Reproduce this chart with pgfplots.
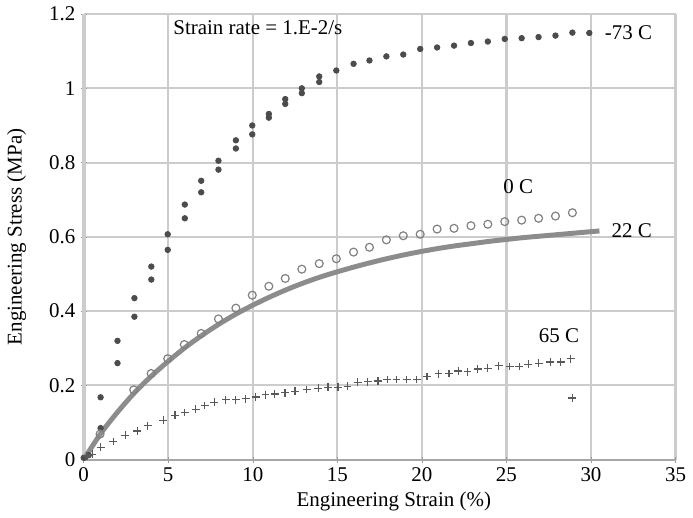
\documentclass[border=0pt]{standalone}
\usepackage{pgfplots}
\pgfplotsset{compat=1.18}
\usepackage{fontspec}
\setmainfont{Liberation Serif}
\begin{document}
\fontsize{10.6bp}{12.7bp}\selectfont
\begin{tikzpicture}
\begin{axis}[
  scale only axis, width=299.5bp, height=225.5bp,
  xmin=0, xmax=35, ymin=0, ymax=1.2,
  xtick={0,5,10,15,20,25,30,35},
  ytick={0,0.2,0.4,0.6,0.8,1,1.2},
  yticklabels={0,0.2,0.4,0.6,0.8,1,1.2},
  axis x line=bottom, axis y line=left,
  x axis line style={-, black!35, line width=1bp},
  y axis line style={-, black!20, line width=2bp},
  xmajorgrids=true, ymajorgrids=true,
  major grid style={draw=black!20, line width=1.1bp},
  major tick length=3bp, tick style={black!40},
  /pgf/number format/assume math mode=true,
  ticklabel style={font=\fontsize{10.6bp}{12.7bp}\selectfont},
  xticklabel style={yshift=1bp},
  yticklabel style={xshift=1bp},
  label style={font=\fontsize{10.6bp}{12.7bp}\selectfont},
  xlabel={Engineering Strain (\%)},
  ylabel={Engineering Stress (MPa)},
  every axis x label/.style={at={(axis description cs:0.524,-0.093)},anchor=center},
  every axis y label/.style={at={(axis description cs:-0.1135,0.5)},rotate=90,anchor=center},
  clip=false,
]
% -73 C
\addplot[only marks, mark=*, mark size=1.4bp, draw=black!70, fill=black!70] coordinates {
(0,0.005)(0.3,0.012)(1,0.168)(1,0.085)(2,0.32)(2,0.26)(3,0.435)(3,0.385)(4,0.52)(4,0.485)
(4.97,0.607)(4.97,0.565)(5.98,0.687)(5.98,0.650)(6.95,0.751)(6.95,0.720)(7.97,0.805)(7.97,0.781)
(9.0,0.860)(9.0,0.838)(9.97,0.900)(9.97,0.876)(10.95,0.931)(10.95,0.921)(11.92,0.971)(11.92,0.958)
(12.9,1.0)(12.9,0.987)(13.93,1.032)(13.93,1.017)(14.94,1.048)(15.96,1.066)(16.9,1.075)(17.9,1.086)
(18.9,1.091)(19.9,1.106)(20.9,1.110)(21.9,1.115)(22.9,1.122)(23.9,1.126)(24.9,1.133)(25.9,1.135)
(26.9,1.138)(27.9,1.142)(28.9,1.150)(29.9,1.149)
};
% 22 C
\addplot[black!45, line width=2.5bp, smooth] coordinates {
(0,0)(1,0.07)(2,0.128)(3,0.18)(4,0.225)(5,0.265)(6,0.302)(7,0.335)(8,0.365)(9,0.392)
(10,0.416)(11,0.438)(12,0.458)(13,0.476)(14,0.492)(15,0.506)(16,0.519)(17,0.531)(18,0.542)
(19,0.552)(20,0.561)(21,0.569)(22,0.576)(23,0.582)(24,0.588)(25,0.593)(26,0.598)(27,0.602)
(28,0.606)(29,0.610)(30,0.614)(30.5,0.616)
};
% 0 C
\addplot[only marks, mark=o, mark size=2bp, black!50, mark options={line width=0.6bp}] coordinates {
(0.97,0.069)(2.96,0.188)(3.99,0.232)(4.97,0.272)(5.95,0.310)(6.95,0.340)(7.97,0.379)(9.0,0.408)
(9.97,0.443)(10.95,0.467)(11.92,0.488)(12.9,0.513)(13.93,0.528)(14.94,0.541)(15.96,0.559)(16.9,0.572)
(17.9,0.592)(18.9,0.603)(19.9,0.607)(20.9,0.621)(21.9,0.623)(22.9,0.630)(23.9,0.634)(24.9,0.641)
(25.9,0.645)(26.9,0.650)(27.9,0.656)(28.9,0.665)
};
% 65 C
\addplot[only marks, mark=+, mark size=2bp, black!65, mark options={line width=0.6bp}] coordinates {
(0.2,0.01)(0.5,0.015)(1.01,0.033)(1.75,0.049)(2.47,0.066)(3.16,0.077)(3.78,0.091)(4.7,0.106)(5.4,0.120)
(5.98,0.127)(6.62,0.136)(7.15,0.146)(7.73,0.155)(8.4,0.161)(9.0,0.161)(9.58,0.164)(10.17,0.169)
(10.75,0.175)(11.3,0.177)(11.9,0.180)(12.5,0.184)(13.2,0.189)(13.87,0.192)(14.45,0.195)(15.04,0.195)
(15.6,0.198)(16.2,0.208)(16.8,0.210)(17.4,0.212)(17.96,0.216)(18.5,0.216)(19.1,0.216)(19.7,0.216)
(20.3,0.224)(20.98,0.231)(21.6,0.232)(22.15,0.239)(22.7,0.237)(23.3,0.244)(23.9,0.246)(24.55,0.253)
(25.2,0.251)(25.75,0.251)(26.3,0.257)(26.9,0.260)(27.6,0.263)(28.2,0.263)(28.8,0.272)(28.9,0.166)
};
\node[anchor=center, inner sep=0pt] at (axis cs:10.3,1.163) {Strain rate = 1.E-2/s};
\node[anchor=west, inner sep=0pt] at (axis cs:30.8,1.149) {-73 C};
\node[anchor=west, inner sep=0pt] at (axis cs:24.8,0.736) {0 C};
\node[anchor=west, inner sep=0pt] at (axis cs:31.2,0.617) {22 C};
\node[anchor=west, inner sep=0pt] at (axis cs:26.9,0.334) {65 C};
\end{axis}
\end{tikzpicture}
\end{document}
